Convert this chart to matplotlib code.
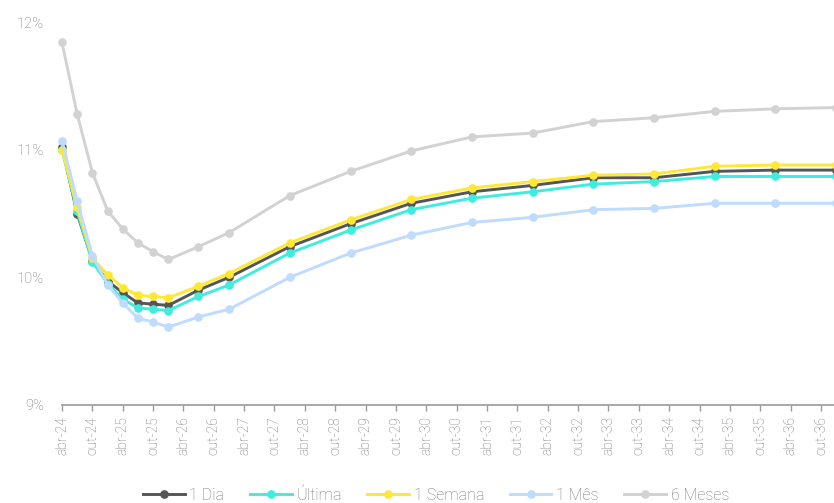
import matplotlib
matplotlib.use("Agg")
import matplotlib.pyplot as plt
from matplotlib.lines import Line2D
import datetime as dt

plt.rcParams['font.family'] = ['Roboto', 'DejaVu Sans']
plt.rcParams['font.weight'] = 'light'

# Vertex dates of the yield curve
dates = ["2024-04", "2024-07", "2024-10", "2025-01", "2025-04", "2025-07",
         "2025-10", "2026-01", "2026-07", "2027-01", "2028-01", "2029-01",
         "2030-01", "2031-01", "2032-01", "2033-01", "2034-01", "2035-01",
         "2036-01", "2037-01"]

um_dia = [11.02, 10.50, 10.13, 9.97, 9.88, 9.80, 9.79, 9.78, 9.90, 10.00,
          10.24, 10.42, 10.58, 10.67, 10.72, 10.78, 10.78, 10.83, 10.84, 10.84]
ultima = [11.00, 10.52, 10.12, 9.95, 9.83, 9.76, 9.75, 9.74, 9.85, 9.94,
          10.19, 10.37, 10.53, 10.62, 10.67, 10.73, 10.75, 10.79, 10.79, 10.79]
uma_semana = [11.00, 10.55, 10.15, 10.02, 9.92, 9.86, 9.85, 9.84, 9.93, 10.03,
              10.27, 10.45, 10.61, 10.70, 10.75, 10.80, 10.81, 10.87, 10.88, 10.88]
um_mes = [11.07, 10.60, 10.17, 9.94, 9.80, 9.68, 9.65, 9.61, 9.69, 9.75,
          10.00, 10.19, 10.33, 10.43, 10.47, 10.53, 10.54, 10.58, 10.58, 10.58]
seis_meses = [11.84, 11.28, 10.82, 10.52, 10.38, 10.27, 10.20, 10.14, 10.24, 10.35,
              10.64, 10.83, 10.99, 11.10, 11.13, 11.22, 11.25, 11.30, 11.32, 11.33]

series_names = ["1 Dia", "Última", "1 Semana", "1 Mês", "6 Meses"]
series_values = [um_dia, ultima, uma_semana, um_mes, seis_meses]
series_colors = ["#555555", "#3FEDDF", "#FFE835", "#BFDBFD", "#D2D2D2"]

y_ticks = [9, 10, 11, 12]
month_pt = {4: "abr", 10: "out"}

x = [dt.datetime.strptime(d, "%Y-%m") for d in dates]

fig = plt.figure(figsize=(8.34, 5.03), dpi=100)
ax = fig.add_axes([62 / 834, 1 - 405 / 503, 1 - 62 / 834, (405 - 22) / 503])

for name, vals, col in zip(series_names, series_values, series_colors):
    ax.plot(x, vals, color=col, lw=2.1, marker="o", ms=5.2,
            markeredgecolor=col, label=name, clip_on=False)

ax.set_ylim(9, 12)
ax.set_xlim(dt.datetime(2024, 4, 1), dt.datetime(2036, 12, 18))

ax.set_yticks(y_ticks)
ax.set_yticklabels([f"{v}%" for v in y_ticks])

tick_dates = []
for yr in range(2024, 2037):
    for m in (4, 10):
        tick_dates.append(dt.datetime(yr, m, 1))
ax.set_xticks(tick_dates)
ax.set_xticklabels([f"{month_pt[d.month]}-{d.year % 100:02d}" for d in tick_dates],
                   rotation=90)

for s in ("top", "right", "left"):
    ax.spines[s].set_visible(False)
ax.spines["bottom"].set_color("#9A9A9A")
ax.spines["bottom"].set_linewidth(1.2)

ax.tick_params(axis="y", length=0, pad=13, labelsize=10.5, labelcolor="#777777")
ax.tick_params(axis="x", length=4, width=1, color="#9A9A9A", pad=4,
               labelsize=10, labelcolor="#777777")

handles = [Line2D([], [], color=c, lw=2.1, marker="o", ms=5.2, markeredgecolor=c)
           for c in series_colors]
fig.legend(handles, series_names, loc="center", bbox_to_anchor=(436 / 834, 0.016),
           ncol=5, frameon=False, fontsize=11.5, handlelength=2.6,
           handletextpad=0.3, columnspacing=1.6, labelcolor="#777777")

fig.savefig("out.png", dpi=100)
